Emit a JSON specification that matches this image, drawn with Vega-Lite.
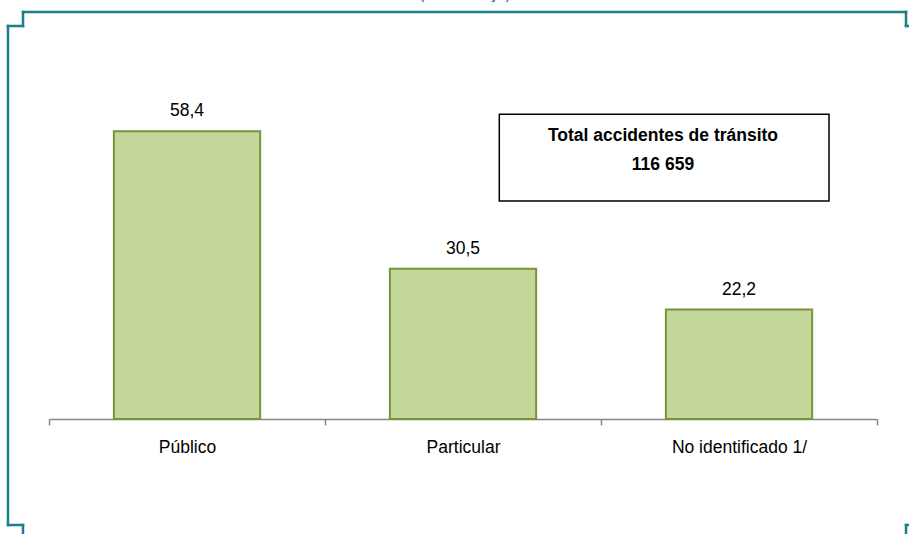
{
  "$schema": "https://vega.github.io/schema/vega-lite/v6.json",
  "width": 828,
  "height": 345,
  "autosize": {"type": "none"},
  "padding": {"left": 49, "top": 74, "right": 32, "bottom": 115},
  "background": "white",
  "config": {"view": {"stroke": null}, "font": "Liberation Sans"},
  "data": {"values": [
    {"tipo": "Público", "valor": 58.4, "etiqueta": "58,4"},
    {"tipo": "Particular", "valor": 30.5, "etiqueta": "30,5"},
    {"tipo": "No identificado 1/", "valor": 22.2, "etiqueta": "22,2"}
  ]},
  "resolve": {"scale": {"x": "independent"}, "axis": {"x": "independent"}},
  "layer": [
    {
      "encoding": {
        "x": {"field": "tipo", "type": "nominal", "sort": null, "title": null,
          "scale": {"paddingInner": 0, "paddingOuter": 0},
          "axis": {"labelAngle": 0, "labelFontSize": 17.5, "labelColor": "#000000", "labelFont": "Liberation Sans",
            "labelBaseline": "alphabetic", "labelPadding": 27, "tickBand": "extent", "tickSize": 6,
            "tickColor": "#868686", "domainColor": "#868686", "tickWidth": 1.5, "domainWidth": 1.5}},
        "y": {"field": "valor", "type": "quantitative", "scale": {"domain": [0, 70]}, "axis": null}
      },
      "layer": [
        {"mark": {"type": "bar", "fill": "#c4d79b", "stroke": "#77933c", "strokeWidth": 2, "width": {"band": 0.53}}},
        {"mark": {"type": "text", "baseline": "alphabetic", "dy": -15, "fontSize": 17.5, "color": "#000000"},
          "encoding": {"text": {"field": "etiqueta"}}}
      ]
    },
    {
      "data": {"values": [{}]},
      "layer": [
        {"mark": {"type": "rect", "fill": "white", "stroke": "#000000", "strokeWidth": 1.5},
          "encoding": {
            "x": {"datum": 1.6315, "type": "quantitative", "scale": {"domain": [0, 3], "nice": false, "zero": false}, "axis": null},
            "x2": {"datum": 2.8261},
            "y": {"datum": 61.82, "type": "quantitative", "scale": {"domain": [0, 70]}},
            "y2": {"datum": 44.23}}},
        {"mark": {"type": "text", "baseline": "alphabetic", "fontSize": 17.5, "fontWeight": "bold", "color": "#000000", "lineHeight": 29,
            "text": ["Total accidentes de tránsito", "116 659"]},
          "encoding": {
            "x": {"datum": 2.2246, "type": "quantitative", "scale": {"domain": [0, 3], "nice": false, "zero": false}, "axis": null},
            "y": {"datum": 56.41, "type": "quantitative", "scale": {"domain": [0, 70]}}}},
        {"mark": {"type": "text", "baseline": "alphabetic", "fontSize": 17, "color": "#17808a", "text": "(Porcentaje)"},
          "encoding": {
            "x": {"datum": 1.507, "type": "quantitative", "scale": {"domain": [0, 3], "nice": false, "zero": false}, "axis": null},
            "y": {"datum": 85.2, "type": "quantitative", "scale": {"domain": [0, 70]}}}},
        {"mark": {"type": "rule", "color": "#17808a", "strokeWidth": 2.5, "strokeCap": "square"},
          "encoding": {
            "x": {"datum": -0.0942, "type": "quantitative", "scale": {"domain": [0, 3], "nice": false, "zero": false}, "axis": null},
            "x2": {"datum": 3.1051},
            "y": {"datum": 82.58, "type": "quantitative", "scale": {"domain": [0, 70]}}}},
        {"mark": {"type": "rule", "color": "#17808a", "strokeWidth": 2.5, "strokeCap": "square"},
          "encoding": {
            "x": {"datum": -0.0942, "type": "quantitative", "scale": {"domain": [0, 3], "nice": false, "zero": false}, "axis": null},
            "y": {"datum": 82.58, "type": "quantitative", "scale": {"domain": [0, 70]}},
            "y2": {"datum": 79.74}}},
        {"mark": {"type": "rule", "color": "#17808a", "strokeWidth": 2.5, "strokeCap": "square"},
          "encoding": {
            "x": {"datum": -0.1486, "type": "quantitative", "scale": {"domain": [0, 3], "nice": false, "zero": false}, "axis": null},
            "x2": {"datum": -0.0942},
            "y": {"datum": 79.74, "type": "quantitative", "scale": {"domain": [0, 70]}}}},
        {"mark": {"type": "rule", "color": "#17808a", "strokeWidth": 2.5, "strokeCap": "square"},
          "encoding": {
            "x": {"datum": -0.1486, "type": "quantitative", "scale": {"domain": [0, 3], "nice": false, "zero": false}, "axis": null},
            "y": {"datum": 79.74, "type": "quantitative", "scale": {"domain": [0, 70]}},
            "y2": {"datum": -21.51}}},
        {"mark": {"type": "rule", "color": "#17808a", "strokeWidth": 2.5, "strokeCap": "square"},
          "encoding": {
            "x": {"datum": -0.1486, "type": "quantitative", "scale": {"domain": [0, 3], "nice": false, "zero": false}, "axis": null},
            "x2": {"datum": -0.0942},
            "y": {"datum": -21.51, "type": "quantitative", "scale": {"domain": [0, 70]}}}},
        {"mark": {"type": "rule", "color": "#17808a", "strokeWidth": 2.5, "strokeCap": "square"},
          "encoding": {
            "x": {"datum": -0.0942, "type": "quantitative", "scale": {"domain": [0, 3], "nice": false, "zero": false}, "axis": null},
            "y": {"datum": -21.51, "type": "quantitative", "scale": {"domain": [0, 70]}},
            "y2": {"datum": -24.55}}},
        {"mark": {"type": "rule", "color": "#17808a", "strokeWidth": 2.5, "strokeCap": "square"},
          "encoding": {
            "x": {"datum": 3.1051, "type": "quantitative", "scale": {"domain": [0, 3], "nice": false, "zero": false}, "axis": null},
            "y": {"datum": 82.58, "type": "quantitative", "scale": {"domain": [0, 70]}},
            "y2": {"datum": 79.74}}},
        {"mark": {"type": "rule", "color": "#17808a", "strokeWidth": 2.5, "strokeCap": "square"},
          "encoding": {
            "x": {"datum": 3.1051, "type": "quantitative", "scale": {"domain": [0, 3], "nice": false, "zero": false}, "axis": null},
            "x2": {"datum": 3.1268},
            "y": {"datum": 79.74, "type": "quantitative", "scale": {"domain": [0, 70]}}}},
        {"mark": {"type": "rule", "color": "#17808a", "strokeWidth": 2.5, "strokeCap": "square"},
          "encoding": {
            "x": {"datum": 3.1051, "type": "quantitative", "scale": {"domain": [0, 3], "nice": false, "zero": false}, "axis": null},
            "y": {"datum": -21.51, "type": "quantitative", "scale": {"domain": [0, 70]}},
            "y2": {"datum": -24.55}}},
        {"mark": {"type": "rule", "color": "#17808a", "strokeWidth": 2.5, "strokeCap": "square"},
          "encoding": {
            "x": {"datum": 3.1051, "type": "quantitative", "scale": {"domain": [0, 3], "nice": false, "zero": false}, "axis": null},
            "x2": {"datum": 3.1268},
            "y": {"datum": -21.51, "type": "quantitative", "scale": {"domain": [0, 70]}}}}
      ]
    }
  ]
}
